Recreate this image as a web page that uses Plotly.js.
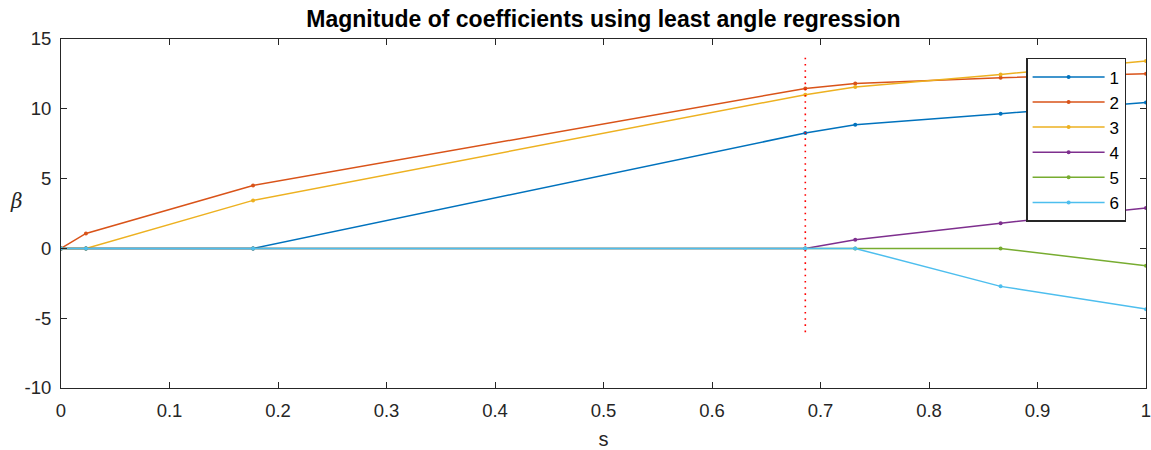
<!DOCTYPE html>
<html>
<head>
<meta charset="utf-8">
<script src="https://cdn.plot.ly/plotly-3.0.1.min.js"></script>
<style>html,body{margin:0;padding:0;background:#fff;}#chart{width:1151px;height:450px;}</style>
</head>
<body>
<div id="chart"></div>
<script>
const s = [0, 0.023, 0.177, 0.686, 0.732, 0.866, 1];
const beta1 = [0, 0, 0, 8.26, 8.86, 9.65, 10.46];
const beta2 = [0, 1.07, 4.51, 11.46, 11.82, 12.23, 12.51];
const beta3 = [0, 0, 3.44, 11.01, 11.56, 12.46, 13.42];
const beta4 = [0, 0, 0, 0, 0.62, 1.81, 2.89];
const beta5 = [0, 0, 0, 0, 0, 0, -1.24];
const beta6 = [0, 0, 0, 0, 0, -2.72, -4.35];
const seriesNames = ['1', '2', '3', '4', '5', '6'];
const colors = ['#0072BD', '#D95319', '#EDB120', '#7E2F8E', '#77AC30', '#4DBEEE'];
const cutS = [0.686, 0.686];
const cutBeta = [-6, 13.8];
const xTicks = [0,0.1,0.2,0.3,0.4,0.5,0.6,0.7,0.8,0.9,1];
const xTickText = ['0','0.1','0.2','0.3','0.4','0.5','0.6','0.7','0.8','0.9','1'];
const yTicks = [-10,-5,0,5,10,15];
const yTickText = ['-10','-5','0','5','10','15'];

const all = [beta1, beta2, beta3, beta4, beta5, beta6];
const traces = all.map((b, i) => ({
  x: s, y: b, name: seriesNames[i], type: 'scatter', mode: 'lines+markers',
  line: {color: colors[i], width: 1.5},
  marker: {color: colors[i], size: 4}
}));
traces.push({
  x: cutS, y: cutBeta, type: 'scatter', mode: 'lines', showlegend: false,
  line: {color: '#FF0000', width: 1.6, dash: '1.6px,4.6px'}
});

const FONT = 'Liberation Sans, Arial, sans-serif';
const axisCommon = {
  showgrid: false, zeroline: false, showline: true, mirror: 'ticks',
  linecolor: '#262626', linewidth: 1, ticks: 'inside', ticklen: 6, tickcolor: '#262626',
  tickfont: {family: FONT, size: 18.5, color: '#262626'},
  ticklabeloverflow: 'allow'
};

const layout = {
  width: 1151, height: 450,
  margin: {l: 61, r: 5, t: 39, b: 62},
  paper_bgcolor: '#fff', plot_bgcolor: '#fff',
  title: {text: '<b>Magnitude of coefficients using least angle regression</b>',
    font: {family: FONT, size: 23, color: '#000'},
    x: 0.5243, xanchor: 'center', y: 0.957, yanchor: 'middle'},
  xaxis: Object.assign({}, axisCommon, {
    range: [0, 1], tickvals: xTicks, ticktext: xTickText, ticklabelstandoff: 6,
    automargin: false,
    title: {text: 's', font: {family: FONT, size: 20, color: '#262626'}, standoff: 22}
  }),
  yaxis: Object.assign({}, axisCommon, {
    range: [-10, 15], tickvals: yTicks, ticktext: yTickText, ticklabelstandoff: 5,
    automargin: false
  }),
  annotations: [{
    text: '<i>β</i>', xref: 'paper', yref: 'paper', x: -0.0406, y: 0.536,
    xanchor: 'center', yanchor: 'middle', showarrow: false,
    font: {family: 'DejaVu Serif, serif', size: 20, color: '#262626'}
  }],
  showlegend: true,
  legend: {
    x: 0.8895, y: 0.946, xanchor: 'left', yanchor: 'top',
    bgcolor: '#fff', bordercolor: '#262626', borderwidth: 1.5,
    font: {family: FONT, size: 17, color: '#000'},
    itemwidth: 72, tracegroupgap: 0
  }
};

Plotly.newPlot('chart', traces, layout, {displayModeBar: false, staticPlot: true});
</script>
</body>
</html>
